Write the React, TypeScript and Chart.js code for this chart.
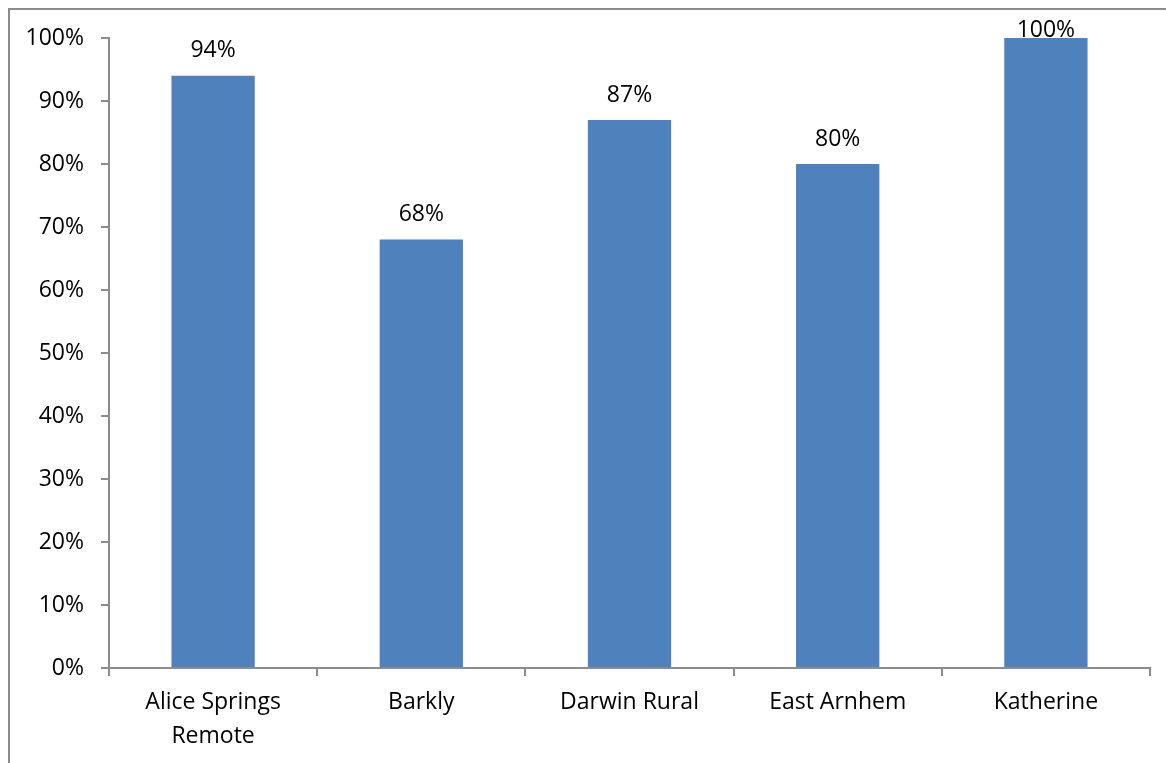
import React, { useEffect, useRef } from "react";
import { Chart, registerables } from "chart.js";

Chart.register(...registerables);

const categories: (string | string[])[] = [
  ["Alice Springs", "Remote"],
  "Barkly",
  "Darwin Rural",
  "East Arnhem",
  "Katherine",
];
const values: number[] = [94, 68, 87, 80, 100];
const yTicks: number[] = [0, 10, 20, 30, 40, 50, 60, 70, 80, 90, 100];

const FONT = "'Open Sans', sans-serif";
const AXIS = "#8c8c8c";

const labelPlugin = {
  id: "valueLabels",
  afterDatasetsDraw(chart: any) {
    const ctx = chart.ctx;
    const meta = chart.getDatasetMeta(0);
    ctx.save();
    ctx.font = `23px ${FONT}`;
    ctx.fillStyle = "#000";
    ctx.textAlign = "center";
    ctx.textBaseline = "alphabetic";
    meta.data.forEach((bar: any, i: number) => {
      const y = Math.max(bar.y - 18.4, 27.3);
      ctx.fillText(values[i] + "%", bar.x, y);
    });
    ctx.restore();
  },
};

export default function App() {
  const ref = useRef<HTMLCanvasElement>(null);
  useEffect(() => {
    if (!ref.current) return;
    const chart = new Chart(ref.current, {
      type: "bar",
      data: {
        labels: categories,
        datasets: [
          {
            data: values,
            backgroundColor: "#4F81BD",
            borderWidth: 0,
            barPercentage: 0.4,
            categoryPercentage: 1,
          },
        ],
      },
      options: {
        responsive: false,
        animation: false,
        devicePixelRatio: 1,
        layout: { padding: { top: 28, right: 16, left: 0, bottom: 0 } },
        plugins: { legend: { display: false }, tooltip: { enabled: false } },
        scales: {
          x: {
            grid: {
              display: true,
              offset: true,
              drawOnChartArea: false,
              drawTicks: true,
              tickLength: 8,
              color: AXIS,
              lineWidth: 2,
            },
            border: { display: true, color: AXIS, width: 2 },
            ticks: {
              color: "#000",
              font: { family: FONT, size: 23, lineHeight: 1.45 },
              padding: 10,
              maxRotation: 0,
              autoSkip: false,
            },
            afterFit: (s: any) => {
              s.height = 95;
              s.paddingLeft = 0;
              s.paddingRight = 0;
            },
          },
          y: {
            min: 0,
            max: 100,
            afterBuildTicks: (s: any) => {
              s.ticks = yTicks.map((v) => ({ value: v }));
            },
            grid: {
              display: true,
              drawOnChartArea: false,
              drawTicks: true,
              tickLength: 8,
              color: AXIS,
              lineWidth: 2,
            },
            border: { display: true, color: AXIS, width: 2 },
            ticks: {
              color: "#000",
              font: { family: FONT, size: 23 },
              padding: 17,
              callback: (v: any) => v + "%",
            },
            afterFit: (s: any) => {
              s.width = 99;
              s.paddingTop = 0;
              s.paddingBottom = 0;
            },
          },
        },
      },
      plugins: [labelPlugin],
    });
    return () => chart.destroy();
  }, []);
  return (
    <div
      style={{
        position: "fixed",
        left: 8,
        top: 8,
        width: 1158,
        height: 755,
        boxSizing: "border-box",
        borderLeft: `2px solid ${AXIS}`,
        borderTop: `2px solid ${AXIS}`,
        background: "#fff",
      }}
    >
      <canvas ref={ref} width={1156} height={753} style={{ display: "block" }} />
    </div>
  );
}
